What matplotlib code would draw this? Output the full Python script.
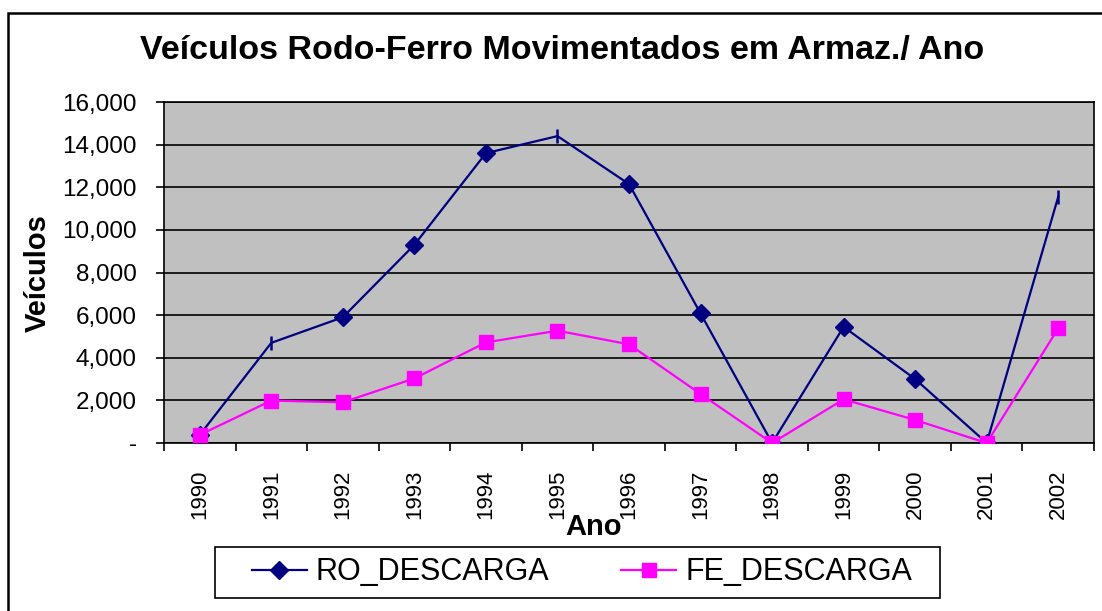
import matplotlib
matplotlib.use('Agg')
import matplotlib.pyplot as plt
from matplotlib.patches import Rectangle
from matplotlib.lines import Line2D

# ---- data ----
years = ['1990', '1991', '1992', '1993', '1994', '1995', '1996',
         '1997', '1998', '1999', '2000', '2001', '2002']
ro_descarga = [380, 4700, 5900, 9300, 13600, 14400, 12150,
               6080, 0, 5450, 3000, 0, 11550]
fe_descarga = [380, 1990, 1910, 3030, 4720, 5270, 4630,
               2300, 0, 2050, 1080, 0, 5380]
ro_bar_marker_idx = [1, 5, 12]   # points drawn with a bar marker in the original
y_ticks = [0, 2000, 4000, 6000, 8000, 10000, 12000, 14000, 16000]
title = 'Veículos Rodo-Ferro Movimentados em Armaz./ Ano'
ylabel = 'Veículos'
xlabel = 'Ano'
series_names = ['RO_DESCARGA', 'FE_DESCARGA']

plt.rcParams['font.family'] = ['Liberation Sans', 'DejaVu Sans']

W, H = 1102, 611
fig = plt.figure(figsize=(W / 100, H / 100), dpi=100)
fig.patch.set_facecolor('white')

ax = fig.add_axes([164 / W, 1 - 443 / H, (1094 - 164) / W, (443 - 102) / H])
ax.set_facecolor('#C0C0C0')

navy = '#000080'
magenta = '#FF00FF'
x = list(range(len(years)))

ax.plot(x, ro_descarga, color=navy, lw=1.6, zorder=3)
d_idx = [i for i in x if i not in ro_bar_marker_idx]
ax.plot(d_idx, [ro_descarga[i] for i in d_idx], ls='none', marker='D',
        ms=9, color=navy, zorder=3)
ax.plot(ro_bar_marker_idx, [ro_descarga[i] for i in ro_bar_marker_idx],
        ls='none', marker='|', ms=10, mew=1.8, color=navy, zorder=3)
ax.plot(x, fe_descarga, color=magenta, lw=1.6, marker='s', ms=10.5,
        zorder=4)

ax.set_xlim(-0.5, len(years) - 0.5)
ax.set_ylim(y_ticks[0], y_ticks[-1])

ax.set_yticks(y_ticks)
ax.set_yticklabels(['-' if v == 0 else f'{v:,}' for v in y_ticks],
                   fontsize=17.5)
ax.yaxis.grid(True, color='black', lw=1.2)
ax.set_axisbelow(True)
ax.tick_params(axis='y', length=5.5, width=1.2, pad=14, direction='out')

ax.set_xticks([i - 0.5 for i in range(len(years) + 1)])
ax.set_xticklabels([])
ax.set_xticks(x, minor=True)
ax.set_xticklabels(years, minor=True, rotation=90, fontsize=16)
ax.tick_params(axis='x', which='major', length=6, width=1.2, direction='out')
ax.tick_params(axis='x', which='minor', length=0, pad=19)

for s in ax.spines.values():
    s.set_color('black')
    s.set_linewidth(1.2)

fig.text(0.510, 1 - 50 / H, title, ha='center', va='center',
         fontsize=24.5, fontweight='bold')
fig.text(38 / W, 1 - 273 / H, ylabel, ha='center', va='center',
         rotation=90, fontsize=21, fontweight='bold')
fig.text(594 / W, 1 - 527 / H, xlabel, ha='center', va='center',
         fontsize=21, fontweight='bold')

# legend box (drawn separately to match the original padding)
fig.add_artist(Rectangle((215 / W, 1 - 598 / H), (940 - 215) / W, 51 / H,
                         transform=fig.transFigure, fill=False, ec='black',
                         lw=1.2))
handles = [Line2D([], [], color=navy, lw=1.6, marker='D', ms=9),
           Line2D([], [], color=magenta, lw=1.6, marker='s', ms=10.5)]
leg = fig.legend(handles, series_names, loc='center', ncol=2,
                 bbox_to_anchor=(582 / W, 1 - 572.5 / H),
                 fontsize=22, frameon=False,
                 handlelength=1.8, handletextpad=0.3, columnspacing=2.35,
                 borderpad=0.3, borderaxespad=0)

border = Rectangle((8 / W, -0.1), 2, 1 - 13 / H + 0.1,
                   transform=fig.transFigure, fill=False, ec='black',
                   lw=1.8, clip_on=False)
fig.add_artist(border)

fig.savefig('out.png', dpi=100)
